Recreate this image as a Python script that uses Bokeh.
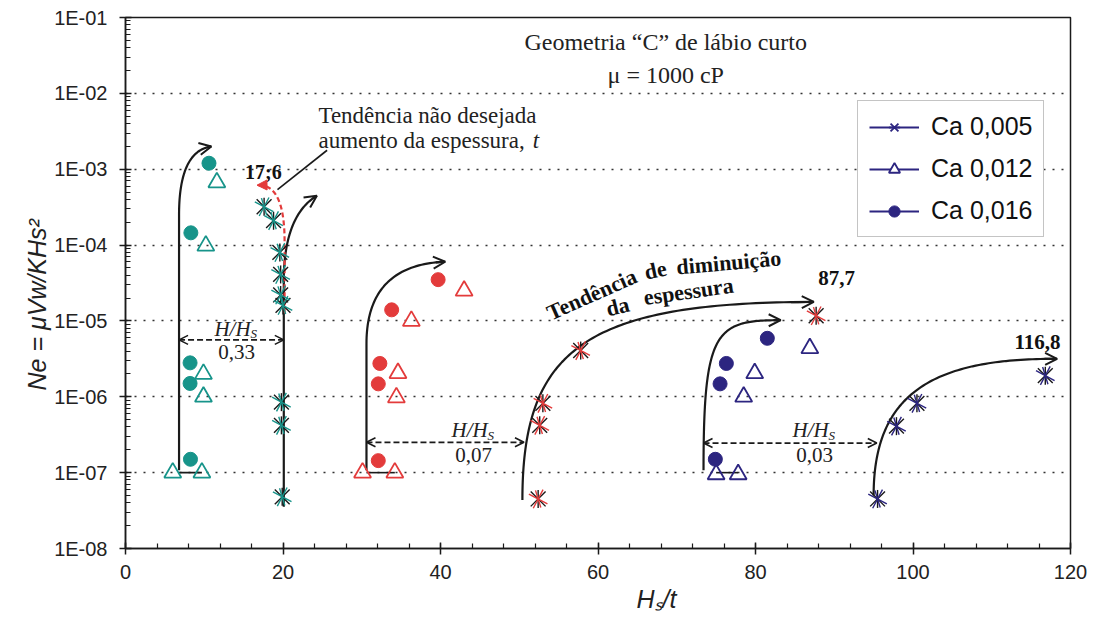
import numpy as np
from bokeh.plotting import figure
from bokeh.models import (FixedTicker, CustomJSTickFormatter, Arrow, OpenHead,
                          NormalHead, Title, Legend, LegendItem)
from bokeh.core.properties import value
from bokeh.embed import file_html
from bokeh.resources import INLINE

# ---------------- data ----------------
x_ticks = [0, 20, 40, 60, 80, 100, 120]
y_ticks = [1e-8, 1e-7, 1e-6, 1e-5, 1e-4, 1e-3, 1e-2, 1e-1]
series_labels = ["Ca 0,005", "Ca 0,012", "Ca 0,016"]

# H/H_S = 0,33 (teal)
teal_circ_x = [10.6, 8.3, 8.2, 8.2, 8.25]
teal_circ_y = [1.2e-3, 1.45e-4, 2.8e-6, 1.5e-6, 1.5e-7]
teal_tri_x = [11.6, 10.2, 9.9, 9.9, 6.0, 9.7]
teal_tri_y = [6.7e-4, 9.8e-5, 2.0e-6, 1.0e-6, 1.0e-7, 1.0e-7]
teal_star_x = [17.6, 18.8, 19.6, 19.7, 19.7, 20.0, 19.8, 19.8, 19.9]
teal_star_y = [3.2e-4, 2.1e-4, 8.0e-5, 4.1e-5, 2.2e-5, 1.6e-5, 8.5e-7, 4.2e-7, 4.8e-8]

# H/H_S = 0,07 (red)
red_circ_x = [39.7, 33.8, 32.3, 32.1, 32.1]
red_circ_y = [3.5e-5, 1.4e-5, 2.75e-6, 1.48e-6, 1.44e-7]
red_tri_x = [43.0, 36.3, 34.6, 34.4, 30.1, 34.2]
red_tri_y = [2.5e-5, 1.0e-5, 2.05e-6, 9.8e-7, 1.0e-7, 1.0e-7]
red_star_x = [87.7, 57.8, 53.0, 52.6, 52.4]
red_star_y = [1.17e-5, 4.07e-6, 8.2e-7, 4.2e-7, 4.5e-8]

# H/H_S = 0,03 (navy)
navy_circ_x = [81.5, 76.3, 75.5, 74.9]
navy_circ_y = [5.9e-6, 2.75e-6, 1.48e-6, 1.5e-7]
navy_tri_x = [86.9, 79.9, 78.5, 75.0, 77.8]
navy_tri_y = [4.36e-6, 2.04e-6, 1.0e-6, 9.5e-8, 9.5e-8]
navy_star_x = [116.8, 100.5, 97.9, 95.5]
navy_star_y = [1.9e-6, 8.2e-7, 4.1e-7, 4.5e-8]

TEAL = "#17948a"
RED = "#e33b3b"
NAVY = "#2c2580"
INK = "#1a1a1a"
SERIF = "Liberation Serif"
SANS = "Liberation Sans"

p = figure(width=1093, height=617, x_range=(0, 120), y_range=(1e-8, 1e-1),
           y_axis_type="log", output_backend="svg", toolbar_location=None,
           min_border_left=125, min_border_right=23, min_border_top=17,
           min_border_bottom=69, background_fill_color="white",
           border_fill_color="white")
p.outline_line_color = INK
p.outline_line_width = 1.5

# axes
p.xaxis.ticker = FixedTicker(ticks=x_ticks, minor_ticks=list(range(0, 121, 4)))
p.yaxis.ticker = FixedTicker(
    ticks=y_ticks,
    minor_ticks=[k * 10.0 ** d for d in range(-8, -1) for k in range(2, 10)])
p.yaxis.formatter = CustomJSTickFormatter(code="""
    const e = Math.round(Math.log10(tick));
    const a = Math.abs(e);
    return "1E" + (e < 0 ? "-" : "+") + (a < 10 ? "0" : "") + a;
""")
for ax in (p.xaxis[0], p.yaxis[0]):
    ax.axis_line_color = INK
    ax.axis_line_width = 1.5
    ax.major_tick_line_color = INK
    ax.major_tick_line_width = 1.5
    ax.minor_tick_line_color = INK
    ax.minor_tick_line_width = 1.2
    ax.major_tick_in = 6
    ax.major_tick_out = 6
    ax.minor_tick_in = 5
    ax.minor_tick_out = 0
    ax.major_label_text_font = SANS
    ax.major_label_text_font_size = "20px"
    ax.major_label_text_color = "#222222"
p.xaxis.major_label_standoff = 10
p.yaxis.major_label_standoff = 12

p.xgrid.visible = False
p.ygrid.ticker = FixedTicker(ticks=y_ticks)
p.ygrid.grid_line_color = "#333333"
p.ygrid.grid_line_width = 1.6
p.ygrid.grid_line_dash = "2 7"

# axis titles
p.add_layout(Title(text="Hₛ/t", align="left", offset=511, standoff=2,
                   text_font=SANS, text_font_style="italic",
                   text_font_size="25px", text_color="#222222"), "below")
p.add_layout(Title(text="Ne = μVw/KHs²", align="left", offset=158, standoff=2,
                   text_font=SANS, text_font_style="italic",
                   text_font_size="25px", text_color="#222222"), "left")


def quad_path(x0, ly0, lybend, cx, cly, x1, ly1, n=50):
    """Vertical rise then a quadratic bend, built in (x, log10 y) space."""
    t = np.linspace(0, 1, n)
    bx = (1 - t) ** 2 * x0 + 2 * (1 - t) * t * cx + t ** 2 * x1
    by = (1 - t) ** 2 * lybend + 2 * (1 - t) * t * cly + t ** 2 * ly1
    return np.concatenate([[x0], bx]), 10 ** np.concatenate([[ly0], by])


def cubic_path(p0, p1, p2, p3, n=90):
    t = np.linspace(0, 1, n)[:, None]
    pts = ((1 - t) ** 3 * np.array(p0) + 3 * (1 - t) ** 2 * t * np.array(p1)
           + 3 * (1 - t) * t ** 2 * np.array(p2) + t ** 3 * np.array(p3))
    return pts[:, 0], 10 ** pts[:, 1]


def trend(xs, ys, color=INK, dash="solid", head=None):
    p.line(xs, ys, line_color=color, line_width=2.2, line_dash=dash)
    h = head or OpenHead(size=12, line_width=2, line_color=color)
    p.add_layout(Arrow(end=h, x_start=xs[-4], y_start=ys[-4],
                       x_end=xs[-1], y_end=ys[-1],
                       line_color=color, line_width=2.2))


# connector between the lowest points of each group
p.segment(x0=[6.8, 30.6, 75.0], y0=[1e-7] * 3, x1=[9.7, 34.2, 77.8],
          y1=[1e-7] * 3, line_color=INK, line_width=1.6)

# trend arrows
trend(*quad_path(6.8, -6.97, -3.6, 6.8, -2.76, 10.9, -2.70))
trend(*quad_path(20.1, -7.45, -4.4, 20.3, -3.6, 24.3, -3.35))
trend(*quad_path(30.6, -6.97, -5.3, 30.6, -4.26, 40.6, -4.22))
trend(*cubic_path((50.4, -7.36), (50.4, -5.39), (58.2, -4.75), (87.4, -4.75)))
trend(*cubic_path((73.4, -6.97), (73.4, -5.12), (74.9, -4.99), (83.2, -4.99)))
trend(*cubic_path((95.0, -7.30), (95.0, -5.98), (102.2, -5.49), (118.3, -5.50)))
trend(*quad_path(20.2, -4.9, -3.95, 20.2, -3.18, 16.7, -3.21), color=RED,
      dash="5 3", head=NormalHead(size=10, line_color=RED, fill_color=RED))

# pointer from the annotation text
p.line([19.3, 25.6], [10 ** -3.27, 10 ** -2.75], line_color=INK, line_width=1.6)

# H/H_S spacing arrows
for xa, xb, ly in [(6.8, 20.1, -5.25), (30.6, 50.6, -6.60), (73.4, 95.4, -6.61)]:
    p.add_layout(Arrow(start=OpenHead(size=9, line_width=1.6, line_color=INK),
                       end=OpenHead(size=9, line_width=1.6, line_color=INK),
                       x_start=xa, y_start=10 ** ly, x_end=xb, y_end=10 ** ly,
                       line_color=INK, line_width=1.8, line_dash="6 3"))


def star(xs, ys, color, turn=0.0, width=1.4):
    """Six-armed star: an x plus a vertical bar."""
    r1 = p.scatter(xs, ys, marker="x", size=21, angle=turn,
                   line_color=color, line_width=width)
    r2 = p.scatter(xs, ys, marker="dash", size=18, angle=np.pi / 2 + turn,
                   line_color=color, line_width=width)
    return [r1, r2]


# markers
groups = [
    (TEAL, teal_circ_x, teal_circ_y, teal_tri_x, teal_tri_y, teal_star_x, teal_star_y),
    (RED, red_circ_x, red_circ_y, red_tri_x, red_tri_y, red_star_x, red_star_y),
    (NAVY, navy_circ_x, navy_circ_y, navy_tri_x, navy_tri_y, navy_star_x, navy_star_y),
]
for col, cx, cy, tx, ty, sx, sy in groups:
    p.scatter(tx, ty, marker="triangle", size=17, fill_alpha=0,
              line_color=col, line_width=1.8)
    p.scatter(cx, cy, marker="circle", size=14, fill_color=col, line_color=col)
    star(sx, sy, INK)
    star(sx, sy, col, turn=0.3)


# texts inside the frame
def txt(x, ly, s, size="23px", style="normal", align="center", angle=0.0,
        font=SERIF, color="#222222", xo=0, yo=0):
    p.text(x=[x], y=[10 ** ly], text=[s], text_font=value(font),
           text_font_size=size, text_font_style=style, text_align=align,
           text_baseline="middle", angle=angle, text_color=color,
           x_offset=xo, y_offset=yo)


txt(68.6, -1.325, "Geometria “C” de lábio curto", size="24px")
txt(68.6, -1.76, "μ = 1000 cP", size="24px")
txt(24.5, -2.29, "Tendência não desejada", align="left")
txt(24.5, -2.62, "aumento da espessura,", align="left")
txt(51.7, -2.62, "t", align="left", style="italic")

txt(17.5, -3.04, "17;6", size="20px", style="bold", color="#111111")
txt(90.3, -4.44, "87,7", size="21px", style="bold", color="#111111")
txt(115.8, -5.28, "116,8", size="21px", style="bold", color="#111111")

d = np.pi / 180
txt(59.2, -4.65, "Tendência", size="22px", style="bold", angle=24 * d, color="#111111")
txt(67.3, -4.33, "de", size="22px", style="bold", angle=12 * d, color="#111111")
txt(76.6, -4.23, "diminuição", size="22px", style="bold", angle=5 * d, color="#111111")
txt(62.5, -4.81, "da", size="22px", style="bold", angle=14 * d, color="#111111")
txt(71.5, -4.61, "espessura", size="22px", style="bold", angle=8 * d, color="#111111")

for xc, ly_a, ly_b, val in [(14.1, -5.10, -5.41, "0,33"),
                            (44.2, -6.44, -6.77, "0,07"),
                            (87.5, -6.44, -6.77, "0,03")]:
    txt(xc, ly_a, "H/H", size="21px", style="italic", xo=-4)
    txt(xc, ly_a, "S", size="13px", style="italic", align="left", xo=14, yo=5)
    txt(xc, ly_b, val, size="21px")

# legend (navy swatches)
nan = [float("nan")]
leg_line = [p.line(nan, nan, line_color=NAVY, line_width=1.8) for _ in range(3)]
leg_star = star(nan, nan, NAVY, width=1.8)
leg_tri = p.scatter(nan, nan, marker="triangle", size=17, fill_color="white",
                    line_color=NAVY, line_width=1.8)
leg_circ = p.scatter(nan, nan, marker="circle", size=15, fill_color=NAVY, line_color=NAVY)
legend = Legend(items=[
    LegendItem(label=series_labels[0], renderers=[leg_line[0]] + leg_star),
    LegendItem(label=series_labels[1], renderers=[leg_line[1], leg_tri]),
    LegendItem(label=series_labels[2], renderers=[leg_line[2], leg_circ]),
], location=(732, 311))
legend.label_text_font = SANS
legend.label_text_font_size = "25px"
legend.label_text_color = "#111111"
legend.glyph_width = 50
legend.glyph_height = 28
legend.label_height = 28
legend.spacing = 13
legend.padding = 11
legend.margin = 0
legend.label_standoff = 12
legend.border_line_color = "#8a8a8a"
legend.border_line_width = 1.5
legend.background_fill_color = "white"
legend.background_fill_alpha = 1.0
p.add_layout(legend)

open("out.html", "w").write(file_html(p, INLINE))
